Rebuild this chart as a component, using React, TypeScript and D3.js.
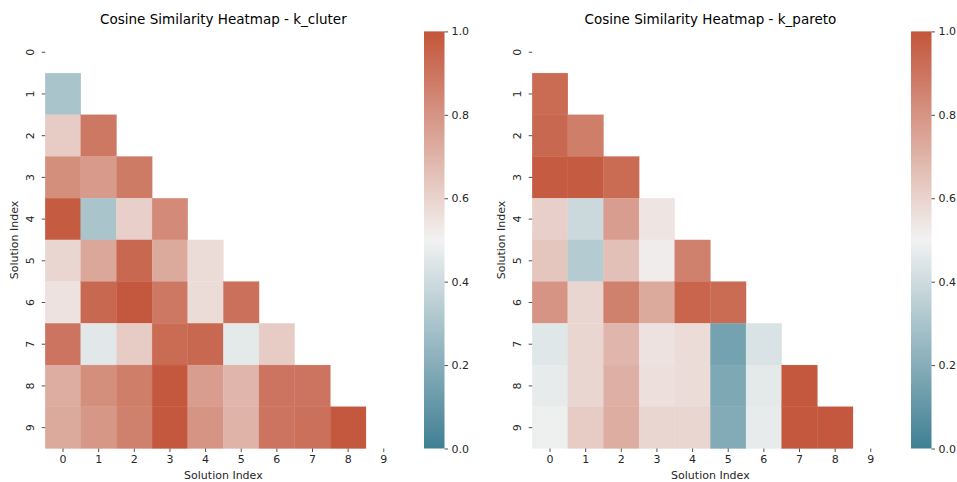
import React, { useRef, useEffect } from "react";
import * as d3 from "d3";

// lower-triangle cosine similarity, row i holds columns 0..i-1
const kCluterRows: number[][] = [
  [],
  [0.3],
  [0.62, 0.89],
  [0.82, 0.78, 0.88],
  [0.98, 0.3, 0.61, 0.83],
  [0.59, 0.74, 0.94, 0.73, 0.57],
  [0.55, 0.94, 0.99, 0.89, 0.57, 0.91],
  [0.9, 0.455, 0.62, 0.93, 0.94, 0.46, 0.62],
  [0.72, 0.82, 0.87, 0.99, 0.77, 0.69, 0.9, 0.9],
  [0.73, 0.79, 0.86, 0.99, 0.8, 0.7, 0.9, 0.91, 0.99],
];

const kParetoRows: number[][] = [
  [],
  [0.93],
  [0.94, 0.87],
  [0.98, 0.98, 0.93],
  [0.61, 0.39, 0.77, 0.54],
  [0.64, 0.33, 0.66, 0.52, 0.86],
  [0.8, 0.59, 0.86, 0.73, 0.95, 0.93],
  [0.45, 0.59, 0.69, 0.55, 0.57, 0.15, 0.43],
  [0.47, 0.59, 0.71, 0.56, 0.57, 0.18, 0.46, 0.99],
  [0.49, 0.62, 0.72, 0.59, 0.59, 0.19, 0.47, 0.99, 0.99],
];

const indices = d3.range(10);
const colorTicks = [0, 0.2, 0.4, 0.6, 0.8, 1.0];

const panels = [
  { title: "Cosine Similarity Heatmap - k_cluter", rows: kCluterRows, dx: 0 },
  { title: "Cosine Similarity Heatmap - k_pareto", rows: kParetoRows, dx: 487 },
];

const App = () => {
  const ref = useRef<SVGSVGElement>(null);

  useEffect(() => {
    const svg = d3.select(ref.current);
    svg.selectAll("*").remove();

    const color = d3
      .scaleLinear<string>()
      .domain([0, 0.5, 1])
      .range(["#3f7f93", "#f2f2f2", "#c3553a"])
      .interpolate(d3.interpolateRgb);

    const grad = svg
      .append("defs")
      .append("linearGradient")
      .attr("id", "cbar")
      .attr("x1", 0)
      .attr("y1", 1)
      .attr("x2", 0)
      .attr("y2", 0);
    d3.range(0, 1.001, 0.1).forEach((t) => {
      grad.append("stop").attr("offset", t).attr("stop-color", color(t));
    });

    const font = "DejaVu Sans, sans-serif";
    const ink = "#262626";
    const top = 31.4;
    const bottom = 448.5;
    const left = 45.2;
    const right = 401.6;

    panels.forEach((p) => {
      const g = svg.append("g").attr("transform", `translate(${p.dx},0)`);
      const x = d3.scaleBand<number>().domain(indices).range([left, right]);
      const y = d3.scaleBand<number>().domain(indices).range([top, bottom]);

      const cells = p.rows.flatMap((row, i) => row.map((v, j) => ({ i, j, v })));
      g.selectAll("rect.cell")
        .data(cells)
        .join("rect")
        .attr("class", "cell")
        .attr("x", (d) => x(d.j)!)
        .attr("y", (d) => y(d.i)!)
        .attr("width", x.bandwidth())
        .attr("height", y.bandwidth())
        .attr("fill", (d) => color(d.v))
        .attr("stroke", (d) => color(d.v))
        .attr("stroke-width", 0.3);

      const xAxis = g
        .append("g")
        .attr("transform", `translate(0,${bottom})`)
        .call(d3.axisBottom(x).tickSize(3.5).tickPadding(3.5));
      xAxis.select(".domain").remove();

      const yAxis = g
        .append("g")
        .attr("transform", `translate(${left},0)`)
        .call(d3.axisLeft(y).tickSize(3.5));
      yAxis.select(".domain").remove();
      yAxis
        .selectAll(".tick text")
        .attr("transform", "rotate(-90)")
        .attr("x", 0)
        .attr("y", -11)
        .attr("dy", 0)
        .attr("text-anchor", "middle");

      [xAxis, yAxis].forEach((a) => {
        a.selectAll("text").attr("font-size", 11).attr("font-family", font).attr("fill", ink);
        a.selectAll("line").attr("stroke", ink).attr("stroke-width", 0.8);
      });

      g.append("text")
        .attr("x", (left + right) / 2)
        .attr("y", 24)
        .attr("text-anchor", "middle")
        .attr("font-size", 13.5)
        .attr("font-family", font)
        .attr("fill", "#000")
        .text(p.title);

      g.append("text")
        .attr("x", (left + right) / 2)
        .attr("y", 479)
        .attr("text-anchor", "middle")
        .attr("font-size", 11)
        .attr("font-family", font)
        .attr("fill", ink)
        .text("Solution Index");

      g.append("text")
        .attr("transform", `translate(18,${(top + bottom) / 2}) rotate(-90)`)
        .attr("text-anchor", "middle")
        .attr("font-size", 11)
        .attr("font-family", font)
        .attr("fill", ink)
        .text("Solution Index");

      // colorbar
      const cb = d3.scaleLinear().domain([0, 1]).range([bottom, top]);
      g.append("rect")
        .attr("x", 424)
        .attr("y", top)
        .attr("width", 20.5)
        .attr("height", bottom - top)
        .attr("fill", "url(#cbar)");
      const cAxis = g
        .append("g")
        .attr("transform", `translate(444.5,0)`)
        .call(
          d3
            .axisRight(cb)
            .tickValues(colorTicks)
            .tickFormat(d3.format(".1f"))
            .tickSize(3.5)
            .tickPadding(3.5)
        );
      cAxis.select(".domain").remove();
      cAxis.selectAll("text").attr("font-size", 11).attr("font-family", font).attr("fill", ink);
      cAxis.selectAll("line").attr("stroke", ink).attr("stroke-width", 0.8);
    });
  }, []);

  return (
    <svg
      ref={ref}
      width={957}
      height={482}
      style={{ position: "absolute", left: 0, top: 0, background: "#fff" }}
    />
  );
};

export default App;
